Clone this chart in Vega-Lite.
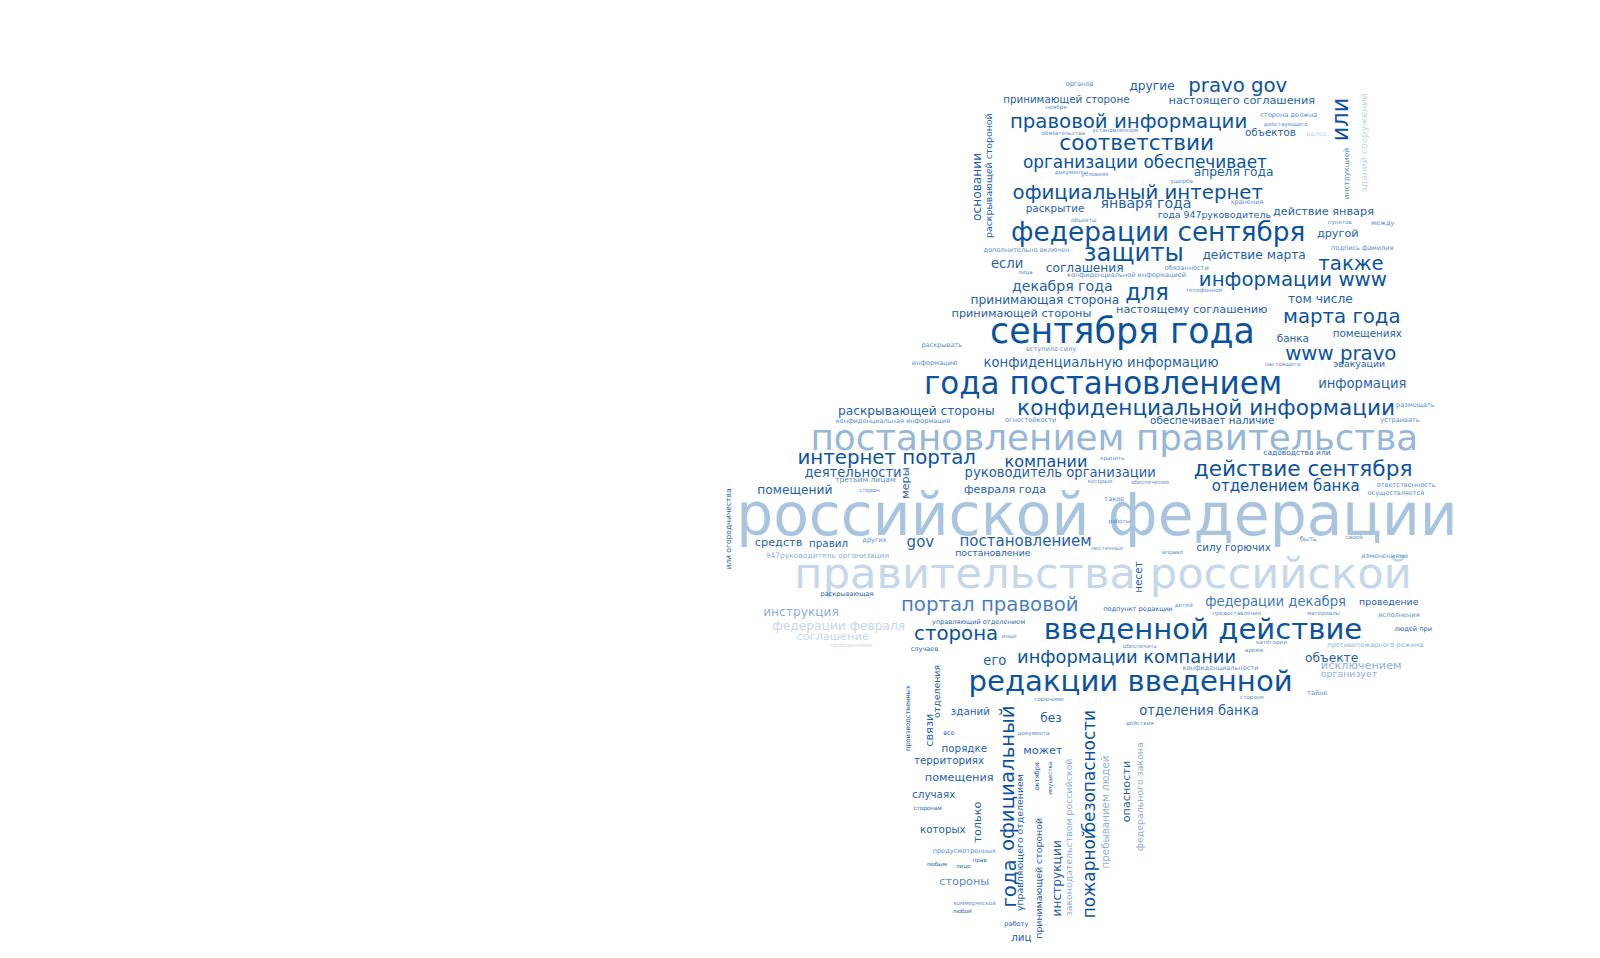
{"$schema":"https://vega.github.io/schema/vega-lite/v6.json","width":1600,"height":958,"padding":0,"autosize":{"type":"fit","contains":"padding"},"background":"white","config":{"view":{"stroke":null}},
"data":{"values":[
{"t":"российской федерации","x":1075,"y":507,"s":62,"a":0,"c":"#a9c4df"},
{"t":"правительства российской","x":1081,"y":563,"s":46,"a":0,"c":"#c6d7ea"},
{"t":"постановлением правительства","x":1092,"y":430,"s":38,"a":0,"c":"#97b7d8"},
{"t":"года постановлением","x":1081,"y":377,"s":33,"a":0,"c":"#0b539f"},
{"t":"сентября года","x":1100,"y":326,"s":37,"a":0,"c":"#0b539f"},
{"t":"редакции введенной","x":1108,"y":668,"s":31,"a":0,"c":"#0b539f"},
{"t":"введенной действие","x":1179,"y":617,"s":31,"a":0,"c":"#0b539f"},
{"t":"федерации сентября","x":1135,"y":228,"s":28,"a":0,"c":"#0b539f"},
{"t":"конфиденциальной информации","x":1182,"y":400,"s":23,"a":0,"c":"#0b539f"},
{"t":"соответствии","x":1114,"y":141,"s":23,"a":0,"c":"#0b539f"},
{"t":"защиты","x":1111,"y":249,"s":26,"a":0,"c":"#0b539f"},
{"t":"действие сентября","x":1277,"y":460,"s":23,"a":0,"c":"#0b539f"},
{"t":"официальный интернет","x":1115,"y":189,"s":21,"a":0,"c":"#0b539f"},
{"t":"правовой информации","x":1106,"y":119,"s":21,"a":0,"c":"#0b539f"},
{"t":"организации обеспечивает","x":1122,"y":160,"s":18,"a":0,"c":"#0b539f"},
{"t":"информации www","x":1267,"y":274,"s":21,"a":0,"c":"#0b539f"},
{"t":"интернет портал","x":869,"y":448,"s":21,"a":0,"c":"#0b539f"},
{"t":"портал правовой","x":970,"y":592,"s":21,"a":0,"c":"#4a7fbf"},
{"t":"сторона","x":937,"y":621,"s":21,"a":0,"c":"#0b539f"},
{"t":"информации компании","x":1104,"y":644,"s":19,"a":0,"c":"#0b539f"},
{"t":"pravo gov","x":1213,"y":84,"s":21,"a":0,"c":"#0b539f"},
{"t":"или","x":1314,"y":117,"s":24,"a":270,"c":"#0b539f"},
{"t":"www pravo","x":1314,"y":347,"s":21,"a":0,"c":"#0b539f"},
{"t":"марта года","x":1315,"y":310,"s":21,"a":0,"c":"#0b539f"},
{"t":"также","x":1324,"y":258,"s":21,"a":0,"c":"#0b539f"},
{"t":"для","x":1124,"y":287,"s":24,"a":0,"c":"#0b539f"},
{"t":"года","x":990,"y":865,"s":21,"a":270,"c":"#0b539f"},
{"t":"официальный","x":988,"y":762,"s":21,"a":270,"c":"#0b539f"},
{"t":"безопасности","x":1068,"y":755,"s":18,"a":270,"c":"#0b539f"},
{"t":"пожарной","x":1068,"y":855,"s":18,"a":270,"c":"#0b539f"},
{"t":"компании","x":1025,"y":452,"s":17,"a":0,"c":"#0b539f"},
{"t":"отделением банка","x":1260,"y":476,"s":16,"a":0,"c":"#0b539f"},
{"t":"руководитель организации","x":1039,"y":463,"s":14,"a":0,"c":"#1f5fa8"},
{"t":"деятельности","x":836,"y":463,"s":14,"a":0,"c":"#1f5fa8"},
{"t":"помещений","x":779,"y":480,"s":13,"a":0,"c":"#1f5fa8"},
{"t":"раскрывающей стороны","x":898,"y":402,"s":13,"a":0,"c":"#1f5fa8"},
{"t":"принимающая сторона","x":1024,"y":294,"s":13,"a":0,"c":"#1f5fa8"},
{"t":"принимающей стороны","x":1001,"y":307,"s":12,"a":0,"c":"#1f5fa8"},
{"t":"настоящему соглашению","x":1168,"y":304,"s":12,"a":0,"c":"#1f5fa8"},
{"t":"конфиденциальную информацию","x":1079,"y":355,"s":14,"a":0,"c":"#1f5fa8"},
{"t":"декабря года","x":1041,"y":281,"s":15,"a":0,"c":"#1f5fa8"},
{"t":"если","x":987,"y":258,"s":14,"a":0,"c":"#1f5fa8"},
{"t":"соглашения","x":1063,"y":262,"s":13,"a":0,"c":"#1f5fa8"},
{"t":"действие марта","x":1229,"y":250,"s":13,"a":0,"c":"#1f5fa8"},
{"t":"января года","x":1123,"y":200,"s":15,"a":0,"c":"#1f5fa8"},
{"t":"апреля года","x":1209,"y":168,"s":13,"a":0,"c":"#1f5fa8"},
{"t":"раскрытие","x":1034,"y":205,"s":11,"a":0,"c":"#1f5fa8"},
{"t":"действие января","x":1297,"y":208,"s":12,"a":0,"c":"#1f5fa8"},
{"t":"другой","x":1311,"y":229,"s":12,"a":0,"c":"#1f5fa8"},
{"t":"том числе","x":1294,"y":293,"s":13,"a":0,"c":"#1f5fa8"},
{"t":"информация","x":1335,"y":376,"s":14,"a":0,"c":"#1f5fa8"},
{"t":"банка","x":1267,"y":332,"s":11,"a":0,"c":"#1f5fa8"},
{"t":"помещениях","x":1340,"y":327,"s":11,"a":0,"c":"#1f5fa8"},
{"t":"эвакуации","x":1332,"y":356,"s":10,"a":0,"c":"#1f5fa8"},
{"t":"принимающей стороне","x":1045,"y":98,"s":11,"a":0,"c":"#1f5fa8"},
{"t":"настоящего соглашения","x":1217,"y":99,"s":12,"a":0,"c":"#1f5fa8"},
{"t":"другие","x":1129,"y":84,"s":13,"a":0,"c":"#1f5fa8"},
{"t":"объектов","x":1245,"y":130,"s":11,"a":0,"c":"#1f5fa8"},
{"t":"основании","x":957,"y":183,"s":13,"a":270,"c":"#1f5fa8"},
{"t":"раскрывающей стороной","x":969,"y":172,"s":10,"a":270,"c":"#1f5fa8"},
{"t":"меры","x":888,"y":473,"s":12,"a":270,"c":"#1f5fa8"},
{"t":"февраля года","x":985,"y":480,"s":12,"a":0,"c":"#1f5fa8"},
{"t":"средств","x":763,"y":532,"s":12,"a":0,"c":"#1f5fa8"},
{"t":"правил","x":812,"y":533,"s":11,"a":0,"c":"#1f5fa8"},
{"t":"gov","x":902,"y":531,"s":16,"a":0,"c":"#1f5fa8"},
{"t":"постановлением","x":1005,"y":530,"s":16,"a":0,"c":"#1f5fa8"},
{"t":"постановление","x":973,"y":541,"s":10,"a":0,"c":"#1f5fa8"},
{"t":"силу горючих","x":1209,"y":537,"s":11,"a":0,"c":"#1f5fa8"},
{"t":"несет","x":1116,"y":565,"s":11,"a":270,"c":"#1f5fa8"},
{"t":"федерации декабря","x":1250,"y":589,"s":14,"a":0,"c":"#3f78ba"},
{"t":"проведение","x":1361,"y":589,"s":10,"a":0,"c":"#1f5fa8"},
{"t":"инструкция","x":785,"y":599,"s":13,"a":0,"c":"#8fb0d6"},
{"t":"федерации февраля","x":822,"y":613,"s":13,"a":0,"c":"#c5d7ea"},
{"t":"соглашение","x":816,"y":624,"s":12,"a":0,"c":"#c5d7ea"},
{"t":"его","x":975,"y":647,"s":14,"a":0,"c":"#1f5fa8"},
{"t":"объекте","x":1305,"y":644,"s":13,"a":0,"c":"#1f5fa8"},
{"t":"исключением","x":1334,"y":652,"s":12,"a":0,"c":"#8fb0d6"},
{"t":"организует","x":1322,"y":660,"s":10,"a":0,"c":"#8fb0d6"},
{"t":"отделения банка","x":1175,"y":696,"s":14,"a":0,"c":"#1f5fa8"},
{"t":"зданий","x":951,"y":697,"s":11,"a":0,"c":"#1f5fa8"},
{"t":"без","x":1030,"y":703,"s":13,"a":0,"c":"#1f5fa8"},
{"t":"может","x":1022,"y":735,"s":12,"a":0,"c":"#1f5fa8"},
{"t":"порядке","x":945,"y":733,"s":11,"a":0,"c":"#1f5fa8"},
{"t":"территориях","x":930,"y":745,"s":11,"a":0,"c":"#1f5fa8"},
{"t":"помещения","x":940,"y":762,"s":12,"a":0,"c":"#1f5fa8"},
{"t":"случаях","x":915,"y":778,"s":11,"a":0,"c":"#1f5fa8"},
{"t":"которых","x":924,"y":813,"s":11,"a":0,"c":"#1f5fa8"},
{"t":"стороны","x":945,"y":864,"s":12,"a":0,"c":"#5b8cc4"},
{"t":"лиц","x":1001,"y":918,"s":11,"a":0,"c":"#1f5fa8"},
{"t":"связи","x":911,"y":715,"s":12,"a":270,"c":"#1f5fa8"},
{"t":"отделения","x":918,"y":677,"s":10,"a":270,"c":"#1f5fa8"},
{"t":"только","x":958,"y":805,"s":12,"a":270,"c":"#1f5fa8"},
{"t":"инструкции","x":1036,"y":860,"s":13,"a":270,"c":"#1f5fa8"},
{"t":"опасности","x":1104,"y":775,"s":12,"a":270,"c":"#1f5fa8"},
{"t":"законодательством российской","x":1048,"y":820,"s":10,"a":270,"c":"#8fb0d6"},
{"t":"федерального закона","x":1117,"y":780,"s":10,"a":270,"c":"#8fb0d6"},
{"t":"пребыванием людей","x":1084,"y":795,"s":11,"a":270,"c":"#8fb0d6"},
{"t":"управляющего отделением","x":1000,"y":825,"s":10,"a":270,"c":"#1f5fa8"},
{"t":"принимающей стороной","x":1018,"y":860,"s":10,"a":270,"c":"#1f5fa8"},
{"t":"зданий сооружений","x":1337,"y":140,"s":10,"a":270,"c":"#c5d7ea"},
{"t":"инструкцией","x":1320,"y":170,"s":8,"a":270,"c":"#5b8cc4"},
{"t":"или огородничества","x":714,"y":518,"s":8,"a":270,"c":"#1f5fa8"},
{"t":"производственных","x":890,"y":703,"s":7,"a":270,"c":"#1f5fa8"},
{"t":"октября","x":1016,"y":760,"s":7,"a":270,"c":"#1f5fa8"},
{"t":"имущества","x":1029,"y":762,"s":6,"a":270,"c":"#1f5fa8"},
{"t":"органов","x":1058,"y":82,"s":7,"a":0,"c":"#5b8cc4"},
{"t":"ноября","x":1035,"y":105,"s":6,"a":0,"c":"#5b8cc4"},
{"t":"обязательства","x":1042,"y":130,"s":6,"a":0,"c":"#5b8cc4"},
{"t":"установленном","x":1093,"y":127,"s":6,"a":0,"c":"#5b8cc4"},
{"t":"сторона должна","x":1263,"y":113,"s":7,"a":0,"c":"#5b8cc4"},
{"t":"действующего","x":1260,"y":121,"s":6,"a":0,"c":"#5b8cc4"},
{"t":"далее","x":1290,"y":131,"s":7,"a":0,"c":"#c5d7ea"},
{"t":"документы","x":1050,"y":168,"s":6,"a":0,"c":"#5b8cc4"},
{"t":"условиях","x":1073,"y":170,"s":6,"a":0,"c":"#5b8cc4"},
{"t":"ущерба","x":1158,"y":177,"s":6,"a":0,"c":"#5b8cc4"},
{"t":"хранения","x":1222,"y":198,"s":7,"a":0,"c":"#5b8cc4"},
{"t":"года 947руководитель","x":1190,"y":211,"s":10,"a":0,"c":"#1f5fa8"},
{"t":"объекты","x":1062,"y":215,"s":6,"a":0,"c":"#5b8cc4"},
{"t":"пунктов","x":1313,"y":217,"s":6,"a":0,"c":"#5b8cc4"},
{"t":"между","x":1355,"y":218,"s":7,"a":0,"c":"#5b8cc4"},
{"t":"дополнительно включен","x":1006,"y":245,"s":7,"a":0,"c":"#5b8cc4"},
{"t":"подпись фамилия","x":1335,"y":243,"s":7,"a":0,"c":"#5b8cc4"},
{"t":"лица","x":1005,"y":266,"s":6,"a":0,"c":"#5b8cc4"},
{"t":"конфиденциальной информацией","x":1104,"y":269,"s":7,"a":0,"c":"#5b8cc4"},
{"t":"обязанности","x":1163,"y":262,"s":7,"a":0,"c":"#5b8cc4"},
{"t":"телефонной","x":1180,"y":284,"s":6,"a":0,"c":"#5b8cc4"},
{"t":"раскрывать","x":923,"y":338,"s":7,"a":0,"c":"#5b8cc4"},
{"t":"вступило силу","x":1030,"y":342,"s":7,"a":0,"c":"#5b8cc4"},
{"t":"информацию","x":916,"y":355,"s":7,"a":0,"c":"#5b8cc4"},
{"t":"настоящего","x":1257,"y":356,"s":6,"a":0,"c":"#5b8cc4"},
{"t":"размещать","x":1387,"y":397,"s":7,"a":0,"c":"#5b8cc4"},
{"t":"конфиденциальная информация","x":875,"y":412,"s":7,"a":0,"c":"#5b8cc4"},
{"t":"огнестойкости","x":1010,"y":411,"s":7,"a":0,"c":"#5b8cc4"},
{"t":"обеспечивает наличие","x":1188,"y":412,"s":11,"a":0,"c":"#1f5fa8"},
{"t":"устраивать","x":1372,"y":411,"s":7,"a":0,"c":"#5b8cc4"},
{"t":"хранить","x":1090,"y":448,"s":6,"a":0,"c":"#5b8cc4"},
{"t":"садоводства или","x":1271,"y":444,"s":8,"a":0,"c":"#1f5fa8"},
{"t":"третьим лицам","x":848,"y":470,"s":8,"a":0,"c":"#5b8cc4"},
{"t":"которые","x":1078,"y":471,"s":6,"a":0,"c":"#5b8cc4"},
{"t":"обеспечение","x":1127,"y":472,"s":6,"a":0,"c":"#5b8cc4"},
{"t":"ответственность","x":1378,"y":475,"s":7,"a":0,"c":"#5b8cc4"},
{"t":"осуществляется","x":1368,"y":483,"s":7,"a":0,"c":"#5b8cc4"},
{"t":"сторон","x":852,"y":480,"s":6,"a":0,"c":"#5b8cc4"},
{"t":"такое","x":1092,"y":489,"s":7,"a":0,"c":"#5b8cc4"},
{"t":"работы","x":1097,"y":510,"s":6,"a":0,"c":"#5b8cc4"},
{"t":"своей","x":1327,"y":526,"s":6,"a":0,"c":"#5b8cc4"},
{"t":"быть","x":1282,"y":528,"s":7,"a":0,"c":"#5b8cc4"},
{"t":"других","x":857,"y":529,"s":7,"a":0,"c":"#5b8cc4"},
{"t":"947руководитель организации","x":811,"y":544,"s":8,"a":0,"c":"#8fb0d6"},
{"t":"нестичных","x":1085,"y":537,"s":6,"a":0,"c":"#5b8cc4"},
{"t":"вправе","x":1149,"y":540,"s":6,"a":0,"c":"#5b8cc4"},
{"t":"изменениями","x":1357,"y":544,"s":7,"a":0,"c":"#5b8cc4"},
{"t":"раскрывающая","x":830,"y":582,"s":7,"a":0,"c":"#1f5fa8"},
{"t":"подпункт редакции","x":1115,"y":596,"s":7,"a":0,"c":"#1f5fa8"},
{"t":"детей","x":1160,"y":592,"s":6,"a":0,"c":"#5b8cc4"},
{"t":"предоставление","x":1212,"y":600,"s":6,"a":0,"c":"#5b8cc4"},
{"t":"материалы","x":1297,"y":600,"s":6,"a":0,"c":"#5b8cc4"},
{"t":"исполнения","x":1371,"y":602,"s":7,"a":0,"c":"#5b8cc4"},
{"t":"управляющий отделением","x":959,"y":609,"s":7,"a":0,"c":"#1f5fa8"},
{"t":"людей при","x":1385,"y":616,"s":7,"a":0,"c":"#1f5fa8"},
{"t":"иные","x":989,"y":623,"s":6,"a":0,"c":"#5b8cc4"},
{"t":"случаев","x":906,"y":635,"s":7,"a":0,"c":"#1f5fa8"},
{"t":"требованиями","x":834,"y":632,"s":6,"a":0,"c":"#c5d7ea"},
{"t":"категории","x":1246,"y":629,"s":6,"a":0,"c":"#5b8cc4"},
{"t":"противопожарного режима","x":1348,"y":632,"s":7,"a":0,"c":"#8fb0d6"},
{"t":"время","x":1229,"y":636,"s":6,"a":0,"c":"#5b8cc4"},
{"t":"обеспечить","x":1117,"y":633,"s":6,"a":0,"c":"#5b8cc4"},
{"t":"конфиденциальности","x":1196,"y":654,"s":7,"a":0,"c":"#5b8cc4"},
{"t":"горючими","x":1028,"y":684,"s":6,"a":0,"c":"#5b8cc4"},
{"t":"тайне","x":1291,"y":679,"s":7,"a":0,"c":"#5b8cc4"},
{"t":"стороне","x":1227,"y":682,"s":6,"a":0,"c":"#5b8cc4"},
{"t":"действия","x":1117,"y":708,"s":6,"a":0,"c":"#5b8cc4"},
{"t":"все","x":930,"y":718,"s":7,"a":0,"c":"#1f5fa8"},
{"t":"документа","x":1013,"y":718,"s":6,"a":0,"c":"#5b8cc4"},
{"t":"предусмотренных","x":945,"y":833,"s":7,"a":0,"c":"#5b8cc4"},
{"t":"прав","x":960,"y":842,"s":6,"a":0,"c":"#1f5fa8"},
{"t":"любым","x":918,"y":846,"s":6,"a":0,"c":"#1f5fa8"},
{"t":"лицо","x":944,"y":848,"s":6,"a":0,"c":"#1f5fa8"},
{"t":"коммерческой","x":955,"y":884,"s":6,"a":0,"c":"#5b8cc4"},
{"t":"любой","x":943,"y":892,"s":6,"a":0,"c":"#1f5fa8"},
{"t":"работу","x":996,"y":905,"s":7,"a":0,"c":"#1f5fa8"},
{"t":"сторонам","x":909,"y":791,"s":6,"a":0,"c":"#1f5fa8"}
]},
"mark":{"type":"text","font":"DejaVu Sans","align":"center","baseline":"middle"},
"encoding":{
"x":{"field":"x","type":"quantitative","scale":{"domain":[0,1568],"nice":false,"zero":false},"axis":null},
"y":{"field":"y","type":"quantitative","scale":{"domain":[0,938],"nice":false,"zero":false,"reverse":true},"axis":null},
"text":{"field":"t"},
"size":{"field":"s","type":"quantitative","scale":{"type":"linear","domain":[0,100],"range":[0,94],"zero":true},"legend":null},
"angle":{"field":"a","type":"quantitative","scale":null,"legend":null},
"color":{"field":"c","type":"nominal","scale":null,"legend":null}
}}
